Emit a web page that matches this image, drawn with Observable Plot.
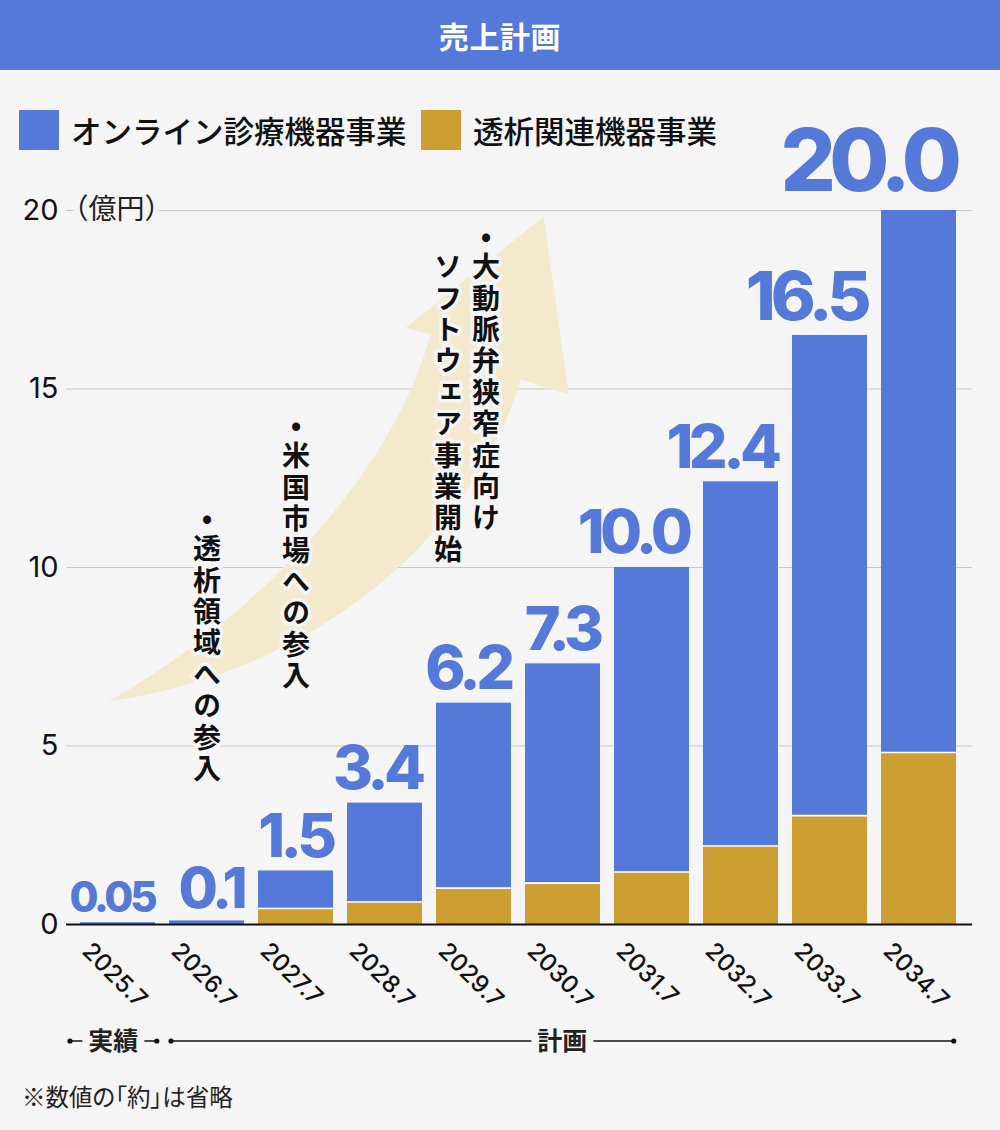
<!DOCTYPE html>
<html lang="ja">
<head>
<meta charset="utf-8">
<script src="https://cdn.jsdelivr.net/npm/d3@7"></script>
<script src="https://cdn.jsdelivr.net/npm/@observablehq/plot@0.6"></script>
<style>
  html, body { margin: 0; padding: 0; background: #f5f5f5; }
  #wrap { position: relative; width: 1000px; height: 1130px; background: #f5f5f5; overflow: hidden;
          font-family: "Noto Sans CJK JP", "Noto Sans", sans-serif; }
  #title { height: 70px; background: #5479d8; color: #fff; font-size: 30px; font-weight: 700;
           display: flex; align-items: center; justify-content: center; letter-spacing: 0.02em; }
  #legend { position: absolute; top: 110px; left: 0; width: 1000px; height: 40px; z-index: 2; }
  #legend .sw { position: absolute; top: 0; width: 40px; height: 40px; }
  #legend .lab { position: absolute; top: 0; font-size: 30.5px; font-weight: 500; color: #111; line-height: 40px; white-space: nowrap; }
  #chart { position: absolute; top: 70px; left: 0; }
  #chart svg { font-variant-numeric: proportional-nums; }
  #note { position: absolute; top: 1079px; left: 22px; font-size: 23.5px; color: #222;
          font-feature-settings: "palt"; }
</style>
</head>
<body>
<div id="wrap">
  <div id="title">売上計画</div>
  <div id="legend"></div>
  <div id="chart"></div>
  <div id="note">※数値の「約」は省略</div>
</div>
<script>
// Fiscal periods (July year-end)
const years = ["2025.7", "2026.7", "2027.7", "2028.7", "2029.7", "2030.7", "2031.7", "2032.7", "2033.7", "2034.7"];
// Total sales per period (億円), as labelled above each bar
const totalLabels = ["0.05", "0.1", "1.5", "3.4", "6.2", "7.3", "10.0", "12.4", "16.5", "20.0"];
// Dialysis-related equipment segment (億円)
const dialysis = [0, 0, 0.45, 0.63, 1.02, 1.16, 1.47, 2.2, 3.05, 4.82];
// Series names
const seriesNames = ["オンライン診療機器事業", "透析関連機器事業"];
// Y axis ticks and unit
const yTicks = [0, 5, 10, 15, 20];
const yUnit = "（億円）";
// Milestone notes (vertical text), anchored at a period and a level in 億円
const noteYears = ["2026.7", "2027.7", "2029.7"];
const noteLevels = [11.8, 14.4, 19.7];
const noteTexts = ["•透析領域への参入", "•米国市場への参入", "•大動脈弁狭窄症向け\nソフトウェア事業開始"];
// Actual vs plan periods
const periodLabels = ["実績", "計画"];
const periodFrom = ["2025.7", "2026.7"];
const periodTo = ["2025.7", "2034.7"];
// Growth arrow outline, in band units (from the first band edge) and 億円
const arrowU = [0.40, 2.01, 3.57, 4.02, 3.74, 5.29, 5.57, 5.03, 4.58, 2.90];
const arrowV = [6.23, 8.52, 12.45, 16.51, 16.70, 19.81, 14.83, 15.25, 11.33, 7.12];

const BLUE = "#5479d8", GOLD = "#cd9f33", BG = "#f5f5f5", INK = "#111", NOTE_INK = "#101010";
const colors = [BLUE, GOLD];

// Legend: swatch + name pairs
const legend = d3.select("#legend");
const legendX = [19, 421];
seriesNames.forEach((name, i) => {
  legend.append("div").attr("class", "sw").style("left", legendX[i] + "px").style("background", colors[i]);
  legend.append("div").attr("class", "lab").style("left", (legendX[i] + 52) + "px").text(name);
});

// Table built from the arrays
const rows = years.map((year, i) => ({
  year,
  label: totalLabels[i],
  total: +totalLabels[i],
  dialysis: dialysis[i]
}));

const notes = noteYears.map((year, i) => ({year, level: noteLevels[i], text: noteTexts[i]}));

const W = 1000, H = 990, ML = 71, MR = 36, MT = 140, MB = 136;
const PAD_IN = 0.16, PAD_OUT = 0.08;
const step = (W - ML - MR) / (years.length - PAD_IN + 2 * PAD_OUT);
const barHalf = step * (1 - PAD_IN) / 2;

// Value label size grows with the figure it shows
const labelSize = v => v >= 20 ? 87 : v >= 16 ? 68 : v >= 1 ? 61 : v >= 0.1 ? 57 : 42;

// Vertical (top-to-bottom) note columns, first column on the right
const noteMarks = [];
const NOTE_FS = 28, NOTE_PITCH = 31.4, COL_GAP = 38;
notes.forEach(n => {
  const cols = n.text.split("\n");
  cols.forEach((col, c) => {
    const dx = ((cols.length - 1) / 2 - c) * COL_GAP - (cols.length - 1) * 7;
    const dy = c === 0 ? 0 : NOTE_PITCH;
    noteMarks.push(Plot.text([n], {
      x: "year", y: "level", text: () => col,
      textAnchor: "start", lineAnchor: "bottom", fontSize: NOTE_FS, fontWeight: 600,
      fill: NOTE_INK, stroke: BG, strokeWidth: 7, dx, dy,
      fontFamily: "Noto Sans CJK JP"
    }));
  });
});

// Growth arrow drawn against the x band scale and y scale
function arrowMark(index, scales) {
  const sx = scales.x, sy = scales.y;
  const st = sx(years[1]) - sx(years[0]);
  const x0 = sx(years[0]) - PAD_OUT * st;
  const P = i => [x0 + arrowU[i] * st, sy(arrowV[i])];
  const p = d3.path();
  p.moveTo(...P(0));
  p.bezierCurveTo(...P(1), ...P(2), ...P(3));
  p.lineTo(...P(4)); p.lineTo(...P(5)); p.lineTo(...P(6)); p.lineTo(...P(7));
  p.bezierCurveTo(...P(8), ...P(9), ...P(0));
  p.closePath();
  const g = d3.create("svg:g");
  g.append("path").attr("d", p.toString()).attr("fill", "#f3e9cd");
  return g.node();
}

// Actual / plan brackets under the axis
function periodMark(index, scales, values, dims) {
  const sx = scales.x;
  const st = sx(years[1]) - sx(years[0]);
  const bw = st * (1 - PAD_IN);
  const y = dims.height - dims.marginBottom + 117;
  const g = d3.create("svg:g");
  periodLabels.forEach((lab, i) => {
    const a = sx(periodFrom[i]) + (i === 0 ? -10 : 2);
    const b = sx(periodTo[i]) + bw + (i === 0 ? 2 : -2);
    const c = (a + b) / 2;
    const half = lab.length * 25 / 2 + 6;
    g.append("line").attr("x1", a).attr("x2", c - half).attr("y1", y).attr("y2", y)
      .attr("stroke", INK).attr("stroke-width", 1.5);
    g.append("line").attr("x1", c + half).attr("x2", b).attr("y1", y).attr("y2", y)
      .attr("stroke", INK).attr("stroke-width", 1.5);
    [a, b].forEach(x => g.append("circle").attr("cx", x).attr("cy", y).attr("r", 2.6).attr("fill", INK));
    g.append("text").attr("x", c).attr("y", y).attr("dy", "0.36em")
      .attr("text-anchor", "middle").attr("font-size", 25).attr("font-weight", 600)
      .attr("fill", "#222").attr("font-family", "Noto Sans CJK JP").text(lab);
  });
  return g.node();
}

const chart = Plot.plot({
  width: W, height: H,
  marginLeft: ML, marginRight: MR, marginTop: MT, marginBottom: MB,
  style: {background: "transparent", fontFamily: "Inter, 'Noto Sans CJK JP', sans-serif", overflow: "visible"},
  x: {domain: years, paddingInner: PAD_IN, paddingOuter: PAD_OUT, axis: null},
  y: {domain: [0, 20], axis: null},
  marks: [
    Plot.ruleY(yTicks.filter(t => t > 0), {stroke: "#c8c8c8", strokeWidth: 1.2, insetLeft: -5, insetRight: -8}),
    arrowMark,
    Plot.barY(rows, {x: "year", y1: 0, y2: "dialysis", fill: GOLD}),
    Plot.barY(rows, {x: "year", y1: "dialysis", y2: "total", fill: BLUE}),
    Plot.tickY(rows.filter(d => d.dialysis > 0), {x: "year", y: "dialysis", stroke: "#fff", strokeWidth: 1.6}),
    Plot.ruleY([0], {stroke: INK, strokeWidth: 2, insetLeft: -5, insetRight: -8}),
    ...noteMarks,
    Plot.text(rows, {
      x: "year", y: "total", text: "label",
      textAnchor: "end", lineAnchor: "bottom", dx: barHalf - 1, dy: -2,
      fontSize: d => labelSize(d.total), fontWeight: 800, fill: BLUE, fontFamily: "Inter"
    }),
    Plot.text(yTicks, {
      y: d => d, text: d => String(d), frameAnchor: "left", textAnchor: "end", dx: -13,
      fontSize: 29, fill: INK, fontFamily: "Inter"
    }),
    Plot.text([yUnit], {
      y: () => yTicks[yTicks.length - 1], text: d => d, frameAnchor: "left", textAnchor: "start", dx: -11,
      fontSize: 28, fill: "#222", stroke: BG, strokeWidth: 12, fontFamily: "Noto Sans CJK JP"
    }),
    Plot.text(years, {
      x: d => d, text: d => d, frameAnchor: "bottom", rotate: 45, textAnchor: "start", lineAnchor: "top",
      dx: -25, dy: 16, fontSize: 24, fill: INK, fontFamily: "Inter", fontWeight: 500
    }),
    periodMark
  ]
});
// Tight tracking for the big value labels, lifted in proportion to their size
d3.select(chart).selectAll(`g[fill="${BLUE}"] text`)
  .style("letter-spacing", "-0.075em")
  .attr("y", "-0.2em");
// Milestone notes are set in vertical writing, one upright character per em plus tracking
d3.select(chart).selectAll(`g[fill="${NOTE_INK}"] text`)
  .style("writing-mode", "vertical-rl")
  .style("text-orientation", "upright")
  .style("letter-spacing", (NOTE_PITCH - NOTE_FS) + "px");
document.getElementById("chart").appendChild(chart);
</script>
</body>
</html>
